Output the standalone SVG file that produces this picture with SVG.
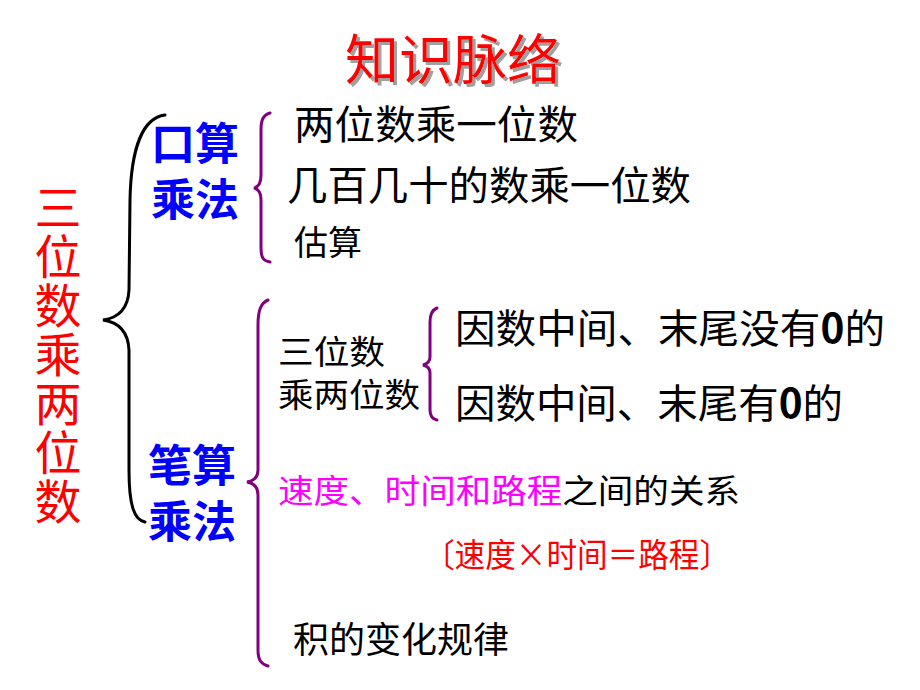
<svg xmlns="http://www.w3.org/2000/svg" width="920" height="690" viewBox="0 0 920 690">
<defs>
<filter id="shadow" x="-10%" y="-20%" width="130%" height="150%">
<feDropShadow dx="3" dy="3" stdDeviation="0.6" flood-color="#a0a0a0" flood-opacity="1"/>
</filter>
</defs>
<style>
text{font-family:"Noto Sans CJK SC","Noto Sans",sans-serif;}
.red{fill:#ff0000}
.blue{fill:#0000ff;font-weight:bold;font-size:44px}
.blk{fill:#000}
.mag{fill:#ff00ff}
.brace{fill:none;stroke:#800080;stroke-width:3;stroke-linecap:round}
.bigbrace{fill:none;stroke:#000;stroke-width:3;stroke-linecap:round}
</style>
<rect width="920" height="690" fill="#fff"/>
<g id="title">
<text x="345" y="80" font-size="54" class="red" filter="url(#shadow)">知识脉络</text>
</g>
<g id="root">
<text x="58" y="184" font-size="47" letter-spacing="2" class="red" writing-mode="vertical-rl">三位数乘两位数</text>
</g>
<g id="connectors">
<path class="bigbrace" d="M165,115 C142,118 131,150 130,200 L129,290 C128,310 117,318 103,320 C117,322 128,330 129,350 L129,470 C129,505 134,520 145,522"/>
<path class="brace" d="M270,113 C263,115 261,120 261,130 L261,175 C261,183 258,187 254,188 C258,189 261,193 261,200 L261,248 C261,257 263,261 270,262"/>
<path class="brace" d="M268,300 C261,303 258,310 258,325 L258,470 C258,478 253,481 247,482 C253,483 258,487 258,495 L258,650 C258,660 261,664 268,666"/>
<path class="brace" d="M437,308 C432,310 430,315 430,322 L430,357 C430,361 427,364 423,365 C427,366 430,369 430,373 L430,410 C430,416 432,419 437,420"/>
</g>
<g id="kousuan">
<text x="151" y="160" class="blue">口算</text>
<text x="151" y="216" class="blue">乘法</text>
</g>
<g id="kousuan-items">
<text x="294" y="139" font-size="40" class="blk" textLength="284" lengthAdjust="spacingAndGlyphs">两位数乘一位数</text>
<text x="287" y="200" font-size="40" class="blk" textLength="404" lengthAdjust="spacingAndGlyphs">几百几十的数乘一位数</text>
<text x="294" y="255" font-size="34" class="blk">估算</text>
</g>
<g id="bisuan">
<text x="148" y="482" class="blue">笔算</text>
<text x="148" y="538" class="blue">乘法</text>
</g>
<g id="sanweishu">
<text x="278" y="364" font-size="33" class="blk" textLength="107" lengthAdjust="spacingAndGlyphs">三位数</text>
<text x="278" y="407" font-size="33" class="blk" textLength="142" lengthAdjust="spacingAndGlyphs">乘两位数</text>
</g>
<g id="sanweishu-items">
<text x="455" y="343" font-size="40" class="blk" textLength="430" lengthAdjust="spacingAndGlyphs">因数中间、末尾没有<tspan font-weight="bold">0</tspan>的</text>
<text x="455" y="418" font-size="40" class="blk" textLength="388" lengthAdjust="spacingAndGlyphs">因数中间、末尾有<tspan font-weight="bold">0</tspan>的</text>
</g>
<g id="sudu">
<text x="278" y="503" font-size="33" textLength="462" lengthAdjust="spacingAndGlyphs"><tspan class="mag">速度、时间和路程</tspan><tspan class="blk">之间的关系</tspan></text>
<text x="424" y="567" font-size="33" class="red" textLength="306" lengthAdjust="spacingAndGlyphs">〔速度×时间＝路程〕</text>
</g>
<g id="ji">
<text x="293" y="653" font-size="36" class="blk">积的变化规律</text>
</g>
</svg>
